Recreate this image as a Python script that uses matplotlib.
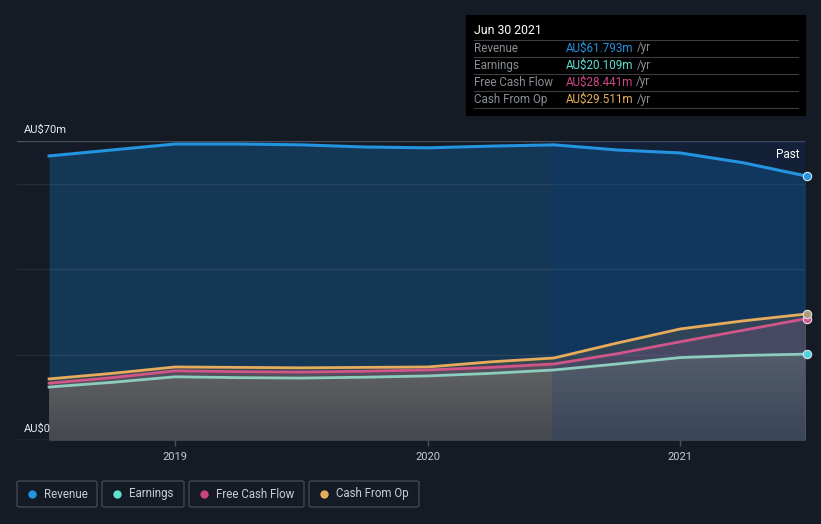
import matplotlib.pyplot as plt
from matplotlib.patches import Rectangle, FancyBboxPatch
from matplotlib.lines import Line2D
from matplotlib.colors import LinearSegmentedColormap
import numpy as np

plt.rcParams['font.family'] = ['Roboto', 'DejaVu Sans']

# quarterly dates (decimal years) and trailing-twelve-month values, AU$m
dates = [2018.5, 2018.75, 2019.0, 2019.25, 2019.5, 2019.75, 2020.0,
         2020.25, 2020.5, 2020.75, 2021.0, 2021.25, 2021.5]
revenue = [66.5, 67.9, 69.3, 69.3, 69.1, 68.6, 68.4, 68.8, 69.1, 67.9, 67.2, 64.9, 61.793]
earnings = [12.4, 13.5, 14.8, 14.6, 14.5, 14.7, 15.0, 15.6, 16.4, 17.8, 19.3, 19.8, 20.109]
fcf = [13.3, 14.6, 16.2, 16.0, 15.9, 16.1, 16.4, 17.0, 17.8, 20.2, 23.0, 25.7, 28.441]
cfo = [14.3, 15.6, 17.1, 17.0, 16.9, 17.0, 17.1, 18.3, 19.2, 22.7, 26.0, 27.9, 29.511]

years = [2019, 2020, 2021]
year_labels = ['2019', '2020', '2021']

bg = '#151b25'
c_rev = '#2394df'
c_earn = '#8ccdbd'
c_fcf = '#d0568a'
c_cfo = '#e6ac5c'

fig = plt.figure(figsize=(8.21, 5.24), dpi=100, facecolor=bg)
ax = fig.add_axes([17 / 821, 84 / 524, 788 / 821, 299 / 524])
ax.set_facecolor(bg)
x0, x1 = 2018.373, 2021.494

# area fills
ax.fill_between(dates, revenue, 0, color='#1565a8', alpha=0.38, lw=0, zorder=1)
ax.fill_between(dates, cfo, 0, color='#3e4b4e', alpha=0.9, lw=0, zorder=1.1)
ax.fill_between(dates, fcf, 0, color='#5b4e5f', alpha=0.9, lw=0, zorder=1.2)
earn_fill = ax.fill_between(dates, earnings, 0, color='#5d6068', alpha=0.0, lw=0, zorder=1.3)

# grey vertical gradient below earnings
grey = LinearSegmentedColormap.from_list('g', ['#45484f', '#686868'])
grad = np.linspace(0, 1, 256).reshape(-1, 1)
im = ax.imshow(grad, cmap=grey, origin='lower', aspect='auto',
               extent=[dates[0], dates[-1], 0, max(earnings) + 1], zorder=1.35)
im.set_clip_path(earn_fill.get_paths()[0], transform=ax.transData)
ax.set_xlim(x0, x1)
ax.set_ylim(0, 70)

# highlighted last-year region
ax.axvspan(2020.49, 2021.6, color='#0a3a80', alpha=0.2, lw=0, zorder=1.6)

# grid lines
for v in [20, 40, 60]:
    ax.axhline(v, color='#ffffff', alpha=0.07, lw=1, zorder=1.5)
ax.axhline(70, color='#4a505a', lw=1, zorder=1.5)
ax.axhline(0, color='#4a505a', lw=1, zorder=1.5)

# lines
ax.plot(dates, cfo, color=c_cfo, lw=2, zorder=3)
ax.plot(dates, fcf, color=c_fcf, lw=2, zorder=3)
ax.plot(dates, earnings, color=c_earn, lw=2, zorder=3)
ax.plot(dates, revenue, color=c_rev, lw=2.2, zorder=3)

# end markers
for s, c in [(revenue, c_rev), (earnings, '#4fd2e0'), (fcf, c_fcf), (cfo, '#b09a7a')]:
    ax.plot(dates[-1], s[-1], 'o', ms=6, mfc=c, mec='#dde6ee', mew=0.8, zorder=4, clip_on=False)

for s in ax.spines.values():
    s.set_visible(False)
ax.set_yticks([])
ax.set_xticks(years)
ax.set_xticklabels(year_labels)
ax.tick_params(axis='x', colors='#4a505a', labelcolor='#c8ccd2', length=4, width=1,
               labelsize=8, pad=5)

ax.text(0.009, 71.5, 'AU$70m', color='#e8eaee', fontsize=8, va='bottom', ha='left',
        transform=ax.get_yaxis_transform(), clip_on=False)
ax.text(0.009, 1.5, 'AU$0', color='#e8eaee', fontsize=8, va='bottom', ha='left',
        transform=ax.get_yaxis_transform(), clip_on=False)
ax.text(0.993, 0.955, 'Past', color='#ffffff', fontsize=8.5, ha='right', va='center',
        transform=ax.transAxes)

# tooltip box
def fx(px):
    return px / 821

def fy(py):
    return 1 - py / 524

fig.patches.append(Rectangle((fx(466), fy(116)), fx(340), 101 / 524, transform=fig.transFigure,
                             facecolor='#000000', edgecolor='none', zorder=5))
fig.text(fx(474), fy(31), 'Jun 30 2021', color='#ffffff', fontsize=8.8, va='center', zorder=6)
rows = [('Revenue', 'AU$61.793m', '#2394df'),
        ('Earnings', 'AU$20.109m', '#5fe0d0'),
        ('Free Cash Flow', 'AU$28.441m', '#d0468a'),
        ('Cash From Op', 'AU$29.511m', '#e8ad5a')]
renderer = fig.canvas.get_renderer()
for i, (name, val, c) in enumerate(rows):
    y = 48 + 17 * i
    fig.text(fx(474), fy(y), name, color='#8a8f96', fontsize=8.4, va='center', zorder=6)
    t = fig.text(fx(566), fy(y), val, color=c, fontsize=8.4, va='center', zorder=6)
    bb = t.get_window_extent(renderer)
    fig.text(fx(bb.x1 + 3), fy(y), '/yr', color='#8a8f96', fontsize=8.4, va='center', zorder=6)
for i in range(5):
    y = 40 + 17 * i
    fig.lines.append(Line2D([fx(474), fx(798)], [fy(y), fy(y)], transform=fig.transFigure,
                            color='#3a3d42', lw=0.8, zorder=6))

# legend boxes
legend_items = [('Revenue', '#2394df', 17, 97),
                ('Earnings', '#5fe0d0', 102, 184),
                ('Free Cash Flow', '#c9457f', 189, 304),
                ('Cash From Op', '#e8ad5a', 309, 419)]
for name, c, lx0, lx1 in legend_items:
    fig.patches.append(FancyBboxPatch((fx(lx0), fy(507)), fx(lx1 - lx0), 26 / 524,
                                      boxstyle='round,pad=0,rounding_size=0.003',
                                      transform=fig.transFigure, facecolor='none',
                                      edgecolor='#41464f', lw=1))
    fig.lines.append(Line2D([fx(lx0 + 15)], [fy(494)], marker='o', ms=6, color=c,
                            mec='none', transform=fig.transFigure))
    fig.text(fx(lx0 + 27), fy(494), name, color='#c8ccd2', fontsize=8.3, va='center')

fig.savefig('out.png', dpi=100, facecolor=bg)
